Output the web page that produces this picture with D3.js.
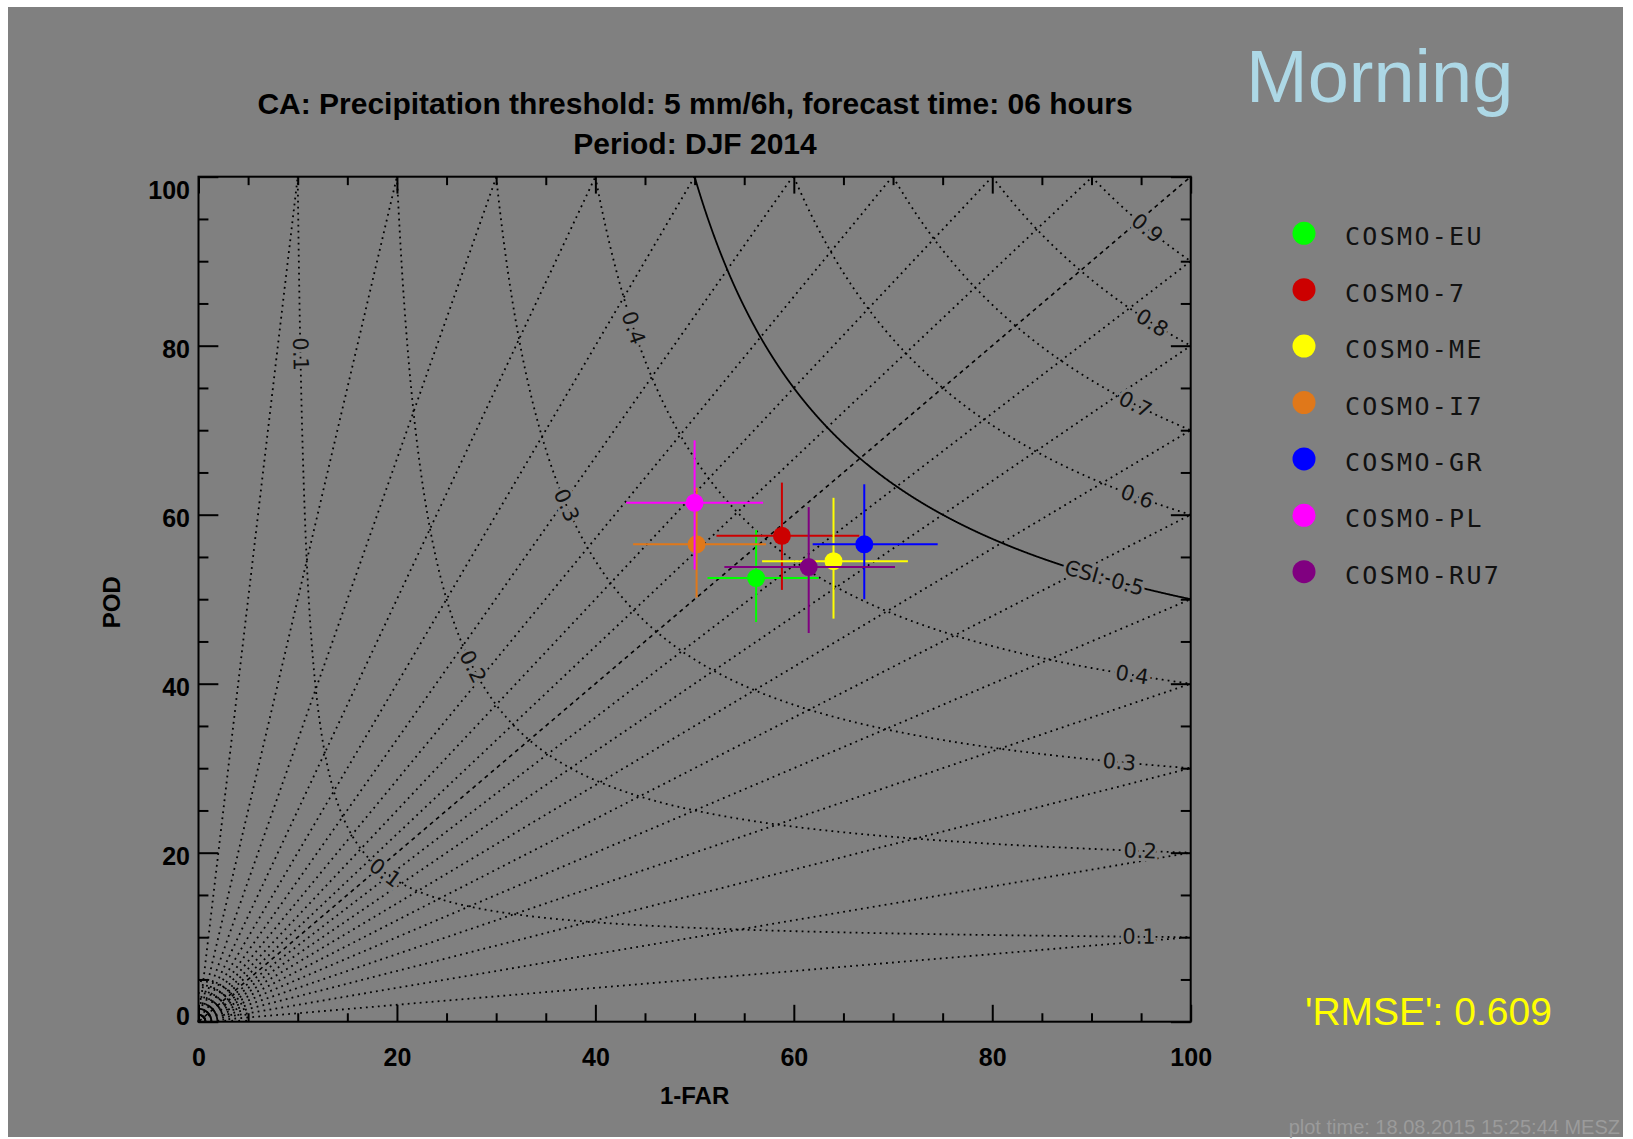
<!DOCTYPE html>
<html>
<head>
<meta charset="utf-8">
<title>CA performance diagram</title>
<script src="https://cdn.jsdelivr.net/npm/d3@7"></script>
<style>
    body { margin: 0; background: #fff; }
    svg { display: block; }
    .frame { fill: none; stroke: #000; stroke-width: 2; }
    .axis .tick line { stroke: #000; stroke-width: 2; }
    .dotted { fill: none; stroke: #000; stroke-width: 1.8; stroke-dasharray: 1.8 4.2; }
    .dashed { fill: none; stroke: #000; stroke-width: 1.6; stroke-dasharray: 4 4; }
    .solid { fill: none; stroke: #000; stroke-width: 1.8; }
    .contourLabel { font-family: 'DejaVu Sans', sans-serif; font-size: 21px; fill: #111;
        stroke: #808080; stroke-width: 6; paint-order: stroke; }
    .legendText { font-family: 'DejaVu Sans Mono', monospace; font-size: 25px; letter-spacing: 2.3px; fill: #111; }
</style>
</head>
<body>
<div id="chart"></div>
<script>
'use strict';

// Models, in legend (and drawing) order
const models = ['COSMO-EU', 'COSMO-7', 'COSMO-ME', 'COSMO-I7', 'COSMO-GR', 'COSMO-PL', 'COSMO-RU7'];
const modelColors = ['#00ff00', '#cc0000', '#ffff00', '#e0781a', '#0000ff', '#ff00ff', '#800080'];

// 1-FAR (success ratio) in %, with error bar ends
const successRatio = [56.2, 58.8, 64.0, 50.2, 67.1, 50.0, 61.5];
const successRatioLo = [51.3, 52.2, 56.8, 43.8, 61.9, 43.1, 53.0];
const successRatioHi = [62.5, 66.6, 71.5, 57.2, 74.5, 56.9, 70.2];

// POD in %, with error bar ends
const pod = [52.5, 57.5, 54.5, 56.5, 56.5, 61.4, 53.8];
const podLo = [47.3, 51.1, 47.7, 50.2, 50.0, 53.5, 46.0];
const podHi = [58.2, 63.8, 62.0, 63.2, 63.6, 68.8, 60.9];

// Background isolines
const csiLevels = [0.1, 0.2, 0.3, 0.4, 0.5, 0.6, 0.7, 0.8, 0.9];
const biasLevels = [10, 5, 3.33, 2.5, 2, 1.67, 1.43, 1.25, 1.11, 1, 0.9, 0.8, 0.7, 0.6, 0.5, 0.4, 0.3, 0.2, 0.1];
const originArcs = [1.3, 2.0, 2.7, 3.4, 4.1, 4.8];

// CSI labels: [csi, position]; left ones placed by POD, right ones by success ratio
const csiLabelsByPod = [[0.1, 0.79], [0.4, 0.821], [0.3, 0.611], [0.2, 0.42], [0.1, 0.176]];
const csiLabelsBySr = [[0.9, 0.956], [0.8, 0.961], [0.7, 0.944], [0.6, 0.946], [0.5, 0.913],
    [0.4, 0.941], [0.3, 0.928], [0.2, 0.949], [0.1, 0.948]];

const axisTicks = [0, 20, 40, 60, 80, 100];
const axisMinorTicks = [5, 10, 15, 25, 30, 35, 45, 50, 55, 65, 70, 75, 85, 90, 95];

const titleLines = ['CA: Precipitation threshold: 5 mm/6h, forecast time: 06 hours', 'Period: DJF 2014'];
const rmseText = '\'RMSE\': 0.609';
const plotTimeText = 'plot time: 18.08.2015 15:25:44 MESZ';

const plotLeft = 198.5;
const plotRight = 1190.7;
const plotTop = 176.7;
const plotBottom = 1021.7;
const sansFont = '\'Liberation Sans\', Arial, sans-serif';

function main() {
    let svg = d3.select('#chart')
        .append('svg')
        .attr('width', 1633)
        .attr('height', 1139);

    // Gray page area with a thin white margin
    svg.append('rect')
        .attr('x', 8).attr('y', 7)
        .attr('width', 1615).attr('height', 1130)
        .attr('fill', '#808080');

    let x = d3.scaleLinear().domain([0, 100]).range([plotLeft, plotRight]);
    let y = d3.scaleLinear().domain([0, 100]).range([plotBottom, plotTop]);

    drawIsolines(svg, x, y);
    drawAxes(svg, x, y);
    drawPoints(svg, x, y);
    drawLegend(svg);
    drawTexts(svg);
} 

/*** Points of a CSI isoline from (csi,1) to (1,csi), in percent ***/
function csiCurve(csi) {
    const k = 1 / csi + 1;
    const n = 1500;
    let pts = [];
    for (let i = 0; i <= n; i++) {
        let u = 1 / csi + (1 - 1 / csi) * i / n;  // u = 1/SR
        pts.push([100 / u, 100 / (k - u)]);
    }
    return pts;
}

/*** Draws bias lines, CSI curves and their labels ***/
function drawIsolines(svg, x, y) {
    let clipped = svg.append('g');
    let line = d3.line().x(d => x(d[0])).y(d => y(d[1]));

    // Bias lines from the origin to the frame
    biasLevels.forEach(b => {
        let end = b >= 1 ? [100 / b, 100] : [100, 100 * b];
        clipped.append('path')
            .attr('class', b === 1 ? 'dashed' : 'dotted')
            .attr('d', line([[0, 0], end]));
    });

    // Little arcs round the origin
    originArcs.forEach(r => {
        let pts = d3.range(0, 91, 3).map(a => [r * Math.cos(a * Math.PI / 180), r * Math.sin(a * Math.PI / 180)]);
        clipped.append('path').attr('class', 'dotted').attr('d', line(pts));
    });

    // CSI curves
    csiLevels.forEach(c => {
        clipped.append('path')
            .attr('class', c === 0.5 ? 'solid' : 'dotted')
            .attr('d', line(csiCurve(c)));
    });

    // CSI labels, turned along the curve
    let labels = [];
    csiLabelsByPod.forEach(([c, p]) => labels.push([c, 1 / (1 / c + 1 - 1 / p)]));
    csiLabelsBySr.forEach(([c, s]) => labels.push([c, s]));

    labels.forEach(([c, s]) => {
        const k = 1 / c + 1;
        let u = 1 / s;
        let p1 = [x(100 / u), y(100 / (k - u))];
        let p2 = [x(100 / (u - 0.001)), y(100 / (k - u + 0.001))];
        let angle = Math.atan2(p2[1] - p1[1], p2[0] - p1[0]) * 180 / Math.PI;
        svg.append('text')
            .attr('class', 'contourLabel')
            .attr('transform', `translate(${p1[0]}, ${p1[1]}) rotate(${angle})`)
            .attr('text-anchor', 'middle')
            .attr('dominant-baseline', 'central')
            .text((c === 0.5 ? 'CSI: ' : '') + c.toFixed(1));
    });
}

/*** Frame with inward ticks on all four sides ***/
function drawAxes(svg, x, y) {
    const xMajor = 0.02 * (plotBottom - plotTop);
    const yMajor = 0.02 * (plotRight - plotLeft);

    let addAxis = (axis, tx, ty, labels) => {
        let g = svg.append('g')
            .classed('axis', true)
            .attr('transform', `translate(${tx}, ${ty})`)
            .call(axis);
        g.select('.domain').remove();
        g.attr('font-family', sansFont).attr('font-size', 25).attr('font-weight', 'bold');
        if (!labels) g.selectAll('text').remove();
        return g;
    };

    // bottom
    addAxis(d3.axisBottom(x).tickValues(axisTicks).tickSize(-xMajor).tickPadding(27), 0, plotBottom, true);
    addAxis(d3.axisBottom(x).tickValues(axisMinorTicks).tickSize(-xMajor / 2), 0, plotBottom, false);
    // top
    addAxis(d3.axisTop(x).tickValues(axisTicks).tickSize(-xMajor), 0, plotTop, false);
    addAxis(d3.axisTop(x).tickValues(axisMinorTicks).tickSize(-xMajor / 2), 0, plotTop, false);
    // left, labels kept inside the axis extent
    let left = addAxis(d3.axisLeft(y).tickValues(axisTicks).tickSize(-yMajor).tickPadding(8.5), plotLeft, 0, true);
    left.selectAll('.tick text')
        .attr('dy', null)
        .attr('dominant-baseline', 'central')
        .attr('y', d => {
            let c = Math.min(Math.max(y(d) + 3, plotTop + 13), plotBottom - 6);
            return c - y(d);
        });
    addAxis(d3.axisLeft(y).tickValues(axisMinorTicks).tickSize(-yMajor / 2), plotLeft, 0, false);
    // right
    addAxis(d3.axisRight(y).tickValues(axisTicks).tickSize(-yMajor), plotRight, 0, false);
    addAxis(d3.axisRight(y).tickValues(axisMinorTicks).tickSize(-yMajor / 2), plotRight, 0, false);

    svg.append('rect')
        .classed('frame', true)
        .attr('x', plotLeft).attr('y', plotTop)
        .attr('width', plotRight - plotLeft)
        .attr('height', plotBottom - plotTop);

    // Axis titles
    svg.append('text')
        .attr('x', (plotLeft + plotRight) / 2).attr('y', 1095)
        .attr('text-anchor', 'middle').attr('dominant-baseline', 'central')
        .attr('font-family', sansFont).attr('font-size', 24).attr('font-weight', 'bold')
        .text('1-FAR');
    svg.append('text')
        .attr('transform', `translate(111, ${(plotTop + plotBottom) / 2 + 3}) rotate(-90)`)
        .attr('text-anchor', 'middle').attr('dominant-baseline', 'central')
        .attr('font-family', sansFont).attr('font-size', 24).attr('font-weight', 'bold')
        .text('POD');
}

/*** Error crosses and dots for each model ***/
function drawPoints(svg, x, y) {
    let g = svg.append('g');
    models.forEach((m, i) => {
        g.append('line')
            .attr('x1', x(successRatio[i])).attr('x2', x(successRatio[i]))
            .attr('y1', y(podLo[i])).attr('y2', y(podHi[i]))
            .attr('stroke', modelColors[i]).attr('stroke-width', 2);
        g.append('line')
            .attr('x1', x(successRatioLo[i])).attr('x2', x(successRatioHi[i]))
            .attr('y1', y(pod[i])).attr('y2', y(pod[i]))
            .attr('stroke', modelColors[i]).attr('stroke-width', 2);
        g.append('circle')
            .attr('cx', x(successRatio[i])).attr('cy', y(pod[i]))
            .attr('r', 9)
            .attr('fill', modelColors[i]);
    });
}

/*** Legend on the right ***/
function drawLegend(svg) {
    let items = svg.append('g')
        .selectAll('g')
        .data(models)
        .enter()
        .append('g')
        .attr('transform', (d, i) => `translate(1304, ${233.3 + i * 56.4})`);

    items.append('circle')
        .attr('r', 11.5)
        .attr('fill', (d, i) => modelColors[i]);

    items.append('text')
        .classed('legendText', true)
        .attr('x', 41).attr('y', 12)
        .text(d => d);
}

/*** Titles and annotations ***/
function drawTexts(svg) {
    svg.selectAll('.titleLine')
        .data(titleLines)
        .enter()
        .append('text')
        .classed('titleLine', true)
        .attr('x', 695).attr('y', (d, i) => 113.5 + i * 40)
        .attr('text-anchor', 'middle')
        .attr('font-family', sansFont).attr('font-size', 30).attr('font-weight', 'bold')
        .text(d => d);

    svg.append('text')
        .attr('x', 1246).attr('y', 101.5)
        .attr('font-family', sansFont).attr('font-size', 74)
        .attr('fill', '#add8e6')
        .text('Morning');

    svg.append('text')
        .attr('x', 1305).attr('y', 1025)
        .attr('font-family', sansFont).attr('font-size', 39)
        .attr('fill', '#ffff00')
        .text(rmseText);

    svg.append('text')
        .attr('x', 1620).attr('y', 1134)
        .attr('text-anchor', 'end')
        .attr('font-family', sansFont).attr('font-size', 20)
        .attr('fill', '#9b9b9b')
        .text(plotTimeText);
}

main();
</script>
</body>
</html>
